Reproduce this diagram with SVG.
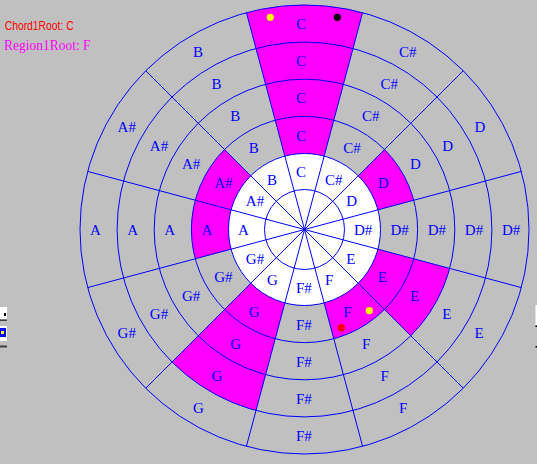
<svg xmlns="http://www.w3.org/2000/svg" width="537" height="464" viewBox="0 0 537 464">
<style>
.bg{fill:#c0c0c0}
.hl{fill:#ff00ff;stroke:none}
.ring{fill:none;stroke:#0000ff;stroke-width:1}
.spoke{stroke:#0000ff;stroke-width:1}
.lbl{font-family:"Liberation Serif","Times New Roman",serif;font-size:15px;fill:#0000ff}
</style>
<rect class="bg" x="0" y="0" width="537" height="464"/>
<text x="4.7" y="30" font-family="'Liberation Sans',Arial,sans-serif" font-size="12.5" fill="#ff0000" textLength="69" lengthAdjust="spacingAndGlyphs">Chord1Root: C</text>
<text x="4" y="50" font-family="'Liberation Serif','Times New Roman',serif" font-size="15" fill="#ff00ff" textLength="86.5" lengthAdjust="spacingAndGlyphs">Region1Root: F</text>
<circle cx="304.5" cy="229.5" r="76" fill="#ffffff"/>
<g id="note-C">
<path class="hl" d="M246.4,12.65 A224.5,224.5 0 0 1 362.6,12.65 L324.17,156.09 A76,76 0 0 0 284.83,156.09 Z"/>
<text class="lbl" x="296" y="177">C</text><text class="lbl" x="296" y="140.5">C</text><text class="lbl" x="296" y="103.3">C</text><text class="lbl" x="296" y="66.2">C</text><text class="lbl" x="296" y="29">C</text>
</g>
<g id="note-Cs">
<text class="lbl" x="325" y="184.8">C#</text><text class="lbl" x="343.3" y="153.2">C#</text><text class="lbl" x="361.9" y="121">C#</text><text class="lbl" x="380.4" y="88.8">C#</text><text class="lbl" x="399" y="56.6">C#</text>
</g>
<g id="note-D">
<path class="hl" d="M384.47,149.53 A113.1,113.1 0 0 1 413.74,200.23 L377.91,209.83 A76,76 0 0 0 358.24,175.76 Z"/>
<text class="lbl" x="346.2" y="206">D</text><text class="lbl" x="377.8" y="187.8">D</text><text class="lbl" x="410.1" y="169.2">D</text><text class="lbl" x="442.2" y="150.6">D</text><text class="lbl" x="474.4" y="132">D</text>
</g>
<g id="note-Ds">
<text class="lbl" x="354" y="235">D#</text><text class="lbl" x="390.5" y="235">D#</text><text class="lbl" x="427.7" y="235">D#</text><text class="lbl" x="464.8" y="235">D#</text><text class="lbl" x="502" y="235">D#</text>
</g>
<g id="note-E">
<path class="hl" d="M449.67,268.4 A150.3,150.3 0 0 1 410.78,335.78 L358.24,283.24 A76,76 0 0 0 377.91,249.17 Z"/>
<text class="lbl" x="346.2" y="264">E</text><text class="lbl" x="377.8" y="282.3">E</text><text class="lbl" x="410.1" y="300.9">E</text><text class="lbl" x="442.2" y="319.4">E</text><text class="lbl" x="474.4" y="338">E</text>
</g>
<g id="note-F">
<path class="hl" d="M384.47,309.47 A113.1,113.1 0 0 1 333.77,338.74 L324.17,302.91 A76,76 0 0 0 358.24,283.24 Z"/>
<text class="lbl" x="325" y="285.2">F</text><text class="lbl" x="343.3" y="316.8">F</text><text class="lbl" x="361.9" y="349.1">F</text><text class="lbl" x="380.4" y="381.2">F</text><text class="lbl" x="399" y="413.4">F</text>
</g>
<g id="note-Fs">
<text class="lbl" x="296" y="293">F#</text><text class="lbl" x="296" y="329.5">F#</text><text class="lbl" x="296" y="366.7">F#</text><text class="lbl" x="296" y="403.8">F#</text><text class="lbl" x="296" y="441">F#</text>
</g>
<g id="note-G">
<path class="hl" d="M256,410.51 A187.4,187.4 0 0 1 171.99,362.01 L250.76,283.24 A76,76 0 0 0 284.83,302.91 Z"/>
<text class="lbl" x="267" y="285.2">G</text><text class="lbl" x="248.8" y="316.8">G</text><text class="lbl" x="230.2" y="349.1">G</text><text class="lbl" x="211.6" y="381.2">G</text><text class="lbl" x="193" y="413.4">G</text>
</g>
<g id="note-Gs">
<text class="lbl" x="245.8" y="264">G#</text><text class="lbl" x="214.2" y="282.3">G#</text><text class="lbl" x="181.9" y="300.9">G#</text><text class="lbl" x="149.8" y="319.4">G#</text><text class="lbl" x="117.6" y="338">G#</text>
</g>
<g id="note-A">
<path class="hl" d="M195.26,258.77 A113.1,113.1 0 0 1 195.26,200.23 L231.09,209.83 A76,76 0 0 0 231.09,249.17 Z"/>
<text class="lbl" x="238" y="235">A</text><text class="lbl" x="201.5" y="235">A</text><text class="lbl" x="164.3" y="235">A</text><text class="lbl" x="127.2" y="235">A</text><text class="lbl" x="90" y="235">A</text>
</g>
<g id="note-As">
<path class="hl" d="M195.26,200.23 A113.1,113.1 0 0 1 224.53,149.53 L250.76,175.76 A76,76 0 0 0 231.09,209.83 Z"/>
<text class="lbl" x="245.8" y="206">A#</text><text class="lbl" x="214.2" y="187.8">A#</text><text class="lbl" x="181.9" y="169.2">A#</text><text class="lbl" x="149.8" y="150.6">A#</text><text class="lbl" x="117.6" y="132">A#</text>
</g>
<g id="note-B">
<text class="lbl" x="267" y="184.8">B</text><text class="lbl" x="248.8" y="153.2">B</text><text class="lbl" x="230.2" y="121">B</text><text class="lbl" x="211.6" y="88.8">B</text><text class="lbl" x="193" y="56.6">B</text>
</g>
<g id="connectors">
<circle class="ring" cx="304.5" cy="229.5" r="40"/>
<circle class="ring" cx="304.5" cy="229.5" r="76"/>
<circle class="ring" cx="304.5" cy="229.5" r="113.1"/>
<circle class="ring" cx="304.5" cy="229.5" r="150.3"/>
<circle class="ring" cx="304.5" cy="229.5" r="187.4"/>
<circle class="ring" cx="304.5" cy="229.5" r="224.5"/>
<line class="spoke" x1="362.6" y1="12.65" x2="246.4" y2="446.35"/>
<line class="spoke" x1="463.24" y1="70.76" x2="145.76" y2="388.24"/>
<line class="spoke" x1="521.35" y1="171.4" x2="87.65" y2="287.6"/>
<line class="spoke" x1="521.35" y1="287.6" x2="87.65" y2="171.4"/>
<line class="spoke" x1="463.24" y1="388.24" x2="145.76" y2="70.76"/>
<line class="spoke" x1="362.6" y1="446.35" x2="246.4" y2="12.65"/>
</g>
<g id="markers">
<circle cx="270.3" cy="17.3" r="3.6" fill="#ffff00"/>
<circle cx="337.3" cy="17.3" r="3.6" fill="#000000"/>
<circle cx="341.3" cy="327.7" r="3.7" fill="#ff0000"/>
<circle cx="369.3" cy="310.7" r="3.6" fill="#ffff00"/>
</g>
<g id="edge-artifacts">
<rect x="0" y="307" width="7" height="12" fill="#ffffff"/>
<rect x="4" y="313" width="2" height="3" fill="#000000"/>
<rect x="0" y="319.5" width="7" height="1.5" fill="#404040"/>
<rect x="0" y="326" width="7" height="15" fill="#ffffff"/>
<rect x="0" y="328" width="6" height="9" fill="#0000ff"/>
<rect x="1" y="331" width="3" height="3" fill="#ffff00"/>
<rect x="0" y="345.5" width="7" height="2" fill="#404040"/>
<rect x="535.5" y="305" width="1.5" height="20" fill="#ffffff"/>
<rect x="535.5" y="325.5" width="1.5" height="1.5" fill="#000000"/>
<rect x="535.5" y="346" width="1.5" height="1.5" fill="#000000"/>
</g>
</svg>
